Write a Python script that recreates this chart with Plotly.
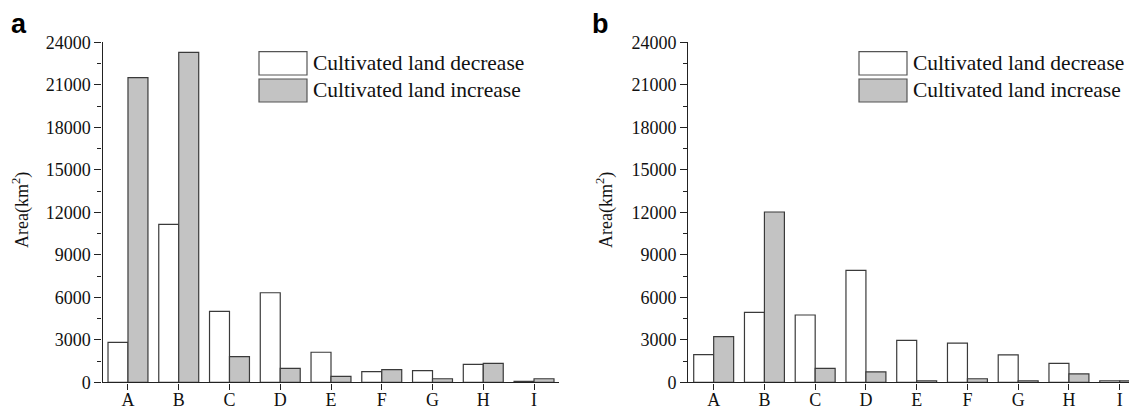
import plotly.graph_objects as go

categories = ["A", "B", "C", "D", "E", "F", "G", "H", "I"]
# Panel a
a_decrease = [2820, 11150, 5000, 6320, 2120, 750, 820, 1270, 70]
a_increase = [21500, 23290, 1810, 980, 420, 890, 250, 1340, 250]
# Panel b
b_decrease = [1950, 4940, 4750, 7900, 2960, 2770, 1930, 1340, 110]
b_increase = [3220, 12020, 990, 730, 110, 250, 110, 590, 110]

y_ticks = [0, 3000, 6000, 9000, 12000, 15000, 18000, 21000, 24000]
legend_labels = ["Cultivated land decrease", "Cultivated land increase"]
panel_labels = ["a", "b"]

# page body has an 8px margin; figure sized to fill the rest of the window
OFF = 8
W, H = 1137 - OFF, 407 - OFF
WHITE = "#ffffff"
GREY = "#c3c3c3"
EDGE = "#3a3a3a"
SERIF = "Liberation Serif, Times New Roman, serif"


def px(x):
    return (x - OFF) / W


def py(y):
    return 1 - (y - OFF) / H


fig = go.Figure()

for dec, inc, xa, ya in [(a_decrease, a_increase, "x", "y"), (b_decrease, b_increase, "x2", "y2")]:
    fig.add_trace(go.Bar(x=categories, y=dec, xaxis=xa, yaxis=ya, name=legend_labels[0],
                         marker=dict(color=WHITE, line=dict(color=EDGE, width=1.2)),
                         showlegend=False, offsetgroup="d"))
    fig.add_trace(go.Bar(x=categories, y=inc, xaxis=xa, yaxis=ya, name=legend_labels[1],
                         marker=dict(color=GREY, line=dict(color=EDGE, width=1.2)),
                         showlegend=False, offsetgroup="i"))

ydom = [py(382.3), py(42.3)]
axis_common_y = dict(
    range=[0, 24000], tickmode="array", tickvals=y_ticks, ticktext=[str(v) for v in y_ticks],
    ticks="outside", ticklen=7, tickwidth=1.3, tickcolor="#222",
    minor=dict(ticks="outside", ticklen=4, tickwidth=1.2, tickcolor="#222", dtick=1500, tick0=0),
    showline=True, linecolor="#222", linewidth=1.4, showgrid=False, zeroline=False,
    tickfont=dict(family=SERIF, size=18, color="#111"), automargin=False, domain=ydom,
)
axis_common_x = dict(
    type="category", ticks="outside", ticklen=6, tickwidth=1.3, tickcolor="#222",
    showline=True, linecolor="#222", linewidth=1.4, showgrid=False, zeroline=False,
    tickfont=dict(family=SERIF, size=18, color="#111"), automargin=False,
    ticklabelstandoff=-5,
)

fig.update_layout(
    width=W, height=H, margin=dict(l=0, r=0, t=0, b=0),
    paper_bgcolor="white", plot_bgcolor="white",
    barmode="group", bargap=0.213, bargroupgap=0,
    xaxis=dict(axis_common_x, domain=[px(102.6), px(559.4)], range=[-0.5, 8.5], anchor="y"),
    yaxis=dict(axis_common_y, anchor="x"),
    xaxis2=dict(axis_common_x, domain=[px(688.3), 1.0], range=[-0.5, (1137 - 713.7) / 50.75], anchor="y2"),
    yaxis2=dict(axis_common_y, anchor="x2"),
)

shapes = []
annotations = []
for lx, tx, ylab_x, plab_x, plab in [(259, 311, 21, 19, panel_labels[0]), (859, 911, 605, 600, panel_labels[1])]:
    for (y0, y1, fill, label) in [(51.7, 75, WHITE, legend_labels[0]), (79, 102, GREY, legend_labels[1])]:
        shapes.append(dict(type="rect", xref="paper", yref="paper",
                           x0=px(lx), x1=px(lx + 48), y0=py(y1), y1=py(y0),
                           fillcolor=fill, line=dict(color="#555", width=1.2)))
        annotations.append(dict(xref="paper", yref="paper", x=px(tx), y=py((y0 + y1) / 2),
                                xanchor="left", yanchor="middle", showarrow=False, text=label,
                                font=dict(family=SERIF, size=21.5, color="#111")))
    annotations.append(dict(xref="paper", yref="paper", x=px(ylab_x), y=py(210),
                            xanchor="center", yanchor="middle", showarrow=False, textangle=-90,
                            text="Area(km<sup>2</sup>)", font=dict(family=SERIF, size=18, color="#111")))
    annotations.append(dict(xref="paper", yref="paper", x=px(plab_x), y=py(24),
                            xanchor="center", yanchor="middle", showarrow=False, text="<b>%s</b>" % plab,
                            font=dict(family="Liberation Sans, Arial, sans-serif", size=27, color="#000")))

fig.update_layout(shapes=shapes, annotations=annotations)
fig.write_html("out.html")
